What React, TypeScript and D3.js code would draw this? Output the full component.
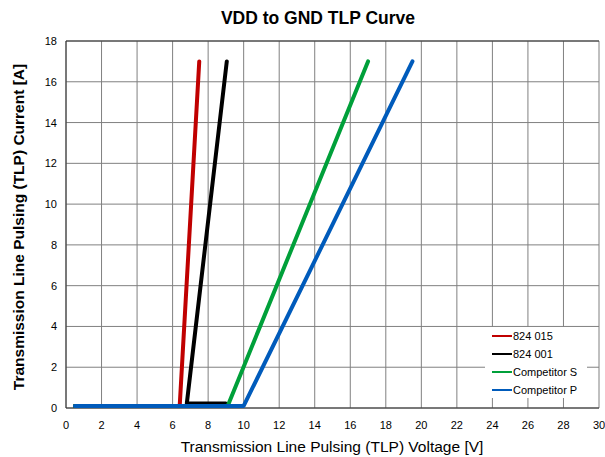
import React from 'react'
import * as d3 from 'd3'

interface Pt { v: number, i: number }

const seriesNames = ['824 015', '824 001', 'Competitor S', 'Competitor P']
const seriesColors = ['#c00000', '#000000', '#00a03a', '#005bbb']

const red015: Pt[] = [{ v: 0.5, i: 0.1 }, { v: 6.4, i: 0.1 }, { v: 7.5, i: 17 }]
const black001: Pt[] = [{ v: 0.5, i: 0.1 }, { v: 8.9, i: 0.1 }, { v: 9.0, i: 0.22 }, { v: 6.8, i: 0.22 }, { v: 9.05, i: 17 }]
const greenS: Pt[] = [{ v: 0.5, i: 0.1 }, { v: 9.1, i: 0.1 }, { v: 17.0, i: 17 }]
const blueP: Pt[] = [{ v: 0.5, i: 0.1 }, { v: 10.0, i: 0.1 }, { v: 19.5, i: 17 }]
const allSeries = [red015, black001, greenS, blueP]

const xTicks = d3.range(0, 31, 2)
const yTicks = d3.range(0, 19, 2)

const W = 605, H = 457
const margin = { top: 41, right: 6, bottom: 49, left: 66 }
const font = 'Helvetica, "Liberation Sans", Arial, sans-serif'

export default function App() {
    const x = d3.scaleLinear().domain([0, 30]).range([margin.left, W - margin.right])
    const y = d3.scaleLinear().domain([0, 18]).range([H - margin.bottom, margin.top])
    const line = d3.line<Pt>().x(d => x(d.v)).y(d => y(d.i))

    const legX = 485, legY = 327
    return (
        <svg width={W} height={H} style={{ position: 'absolute', left: 0, top: 0, background: '#fff' }}>
            <text x={318} y={24} textAnchor='middle' fontFamily={font} fontWeight='bold' fontSize={17.5}>VDD to GND TLP Curve</text>
            {xTicks.map(t => (
                <line key={'gx' + t} x1={x(t)} x2={x(t)} y1={y(0)} y2={y(18)} stroke='#808080' strokeWidth={1} />
            ))}
            {yTicks.map(t => (
                <line key={'gy' + t} x1={x(0)} x2={x(30)} y1={y(t)} y2={y(t)} stroke='#808080' strokeWidth={1} />
            ))}
            <line x1={x(0)} x2={x(30)} y1={y(18)} y2={y(18)} stroke='#333' />
            <line x1={x(0)} x2={x(0)} y1={y(0)} y2={y(18)} stroke='#333' />
            <line x1={x(0)} x2={x(30)} y1={y(0)} y2={y(0)} stroke='#333' />
            {xTicks.map(t => (
                <text key={'tx' + t} x={x(t)} y={y(0) + 21} textAnchor='middle' fontFamily={font} fontSize={11}>{t}</text>
            ))}
            {yTicks.map(t => (
                <text key={'ty' + t} x={x(0) - 9} y={y(t) + 4} textAnchor='end' fontFamily={font} fontSize={11}>{t}</text>
            ))}
            {allSeries.map((s, k) => (
                <path key={'s' + k} d={line(s) || ''} fill='none' stroke={seriesColors[k]} strokeWidth={4} strokeLinecap='round' strokeLinejoin='round' />
            ))}
            <rect x={legX} y={legY} width={102} height={71} fill='#fff' />
            {seriesNames.map((n, k) => (
                <g key={'l' + k} transform={`translate(${legX + 7},${legY + 9 + k * 18})`}>
                    <line x1={0} x2={20} y1={0} y2={0} stroke={seriesColors[k]} strokeWidth={2} />
                    <text x={21} y={4} fontFamily={font} fontSize={11}>{n}</text>
                </g>
            ))}
            <text x={332} y={452} textAnchor='middle' fontFamily={font} fontSize={15.5}>Transmission Line Pulsing (TLP) Voltage [V]</text>
            <text transform={`translate(24,227) rotate(-90)`} textAnchor='middle' fontFamily={font} fontWeight='bold' fontSize={15.5}>Transmission Line Pulsing (TLP) Current [A]</text>
        </svg>
    )
}
